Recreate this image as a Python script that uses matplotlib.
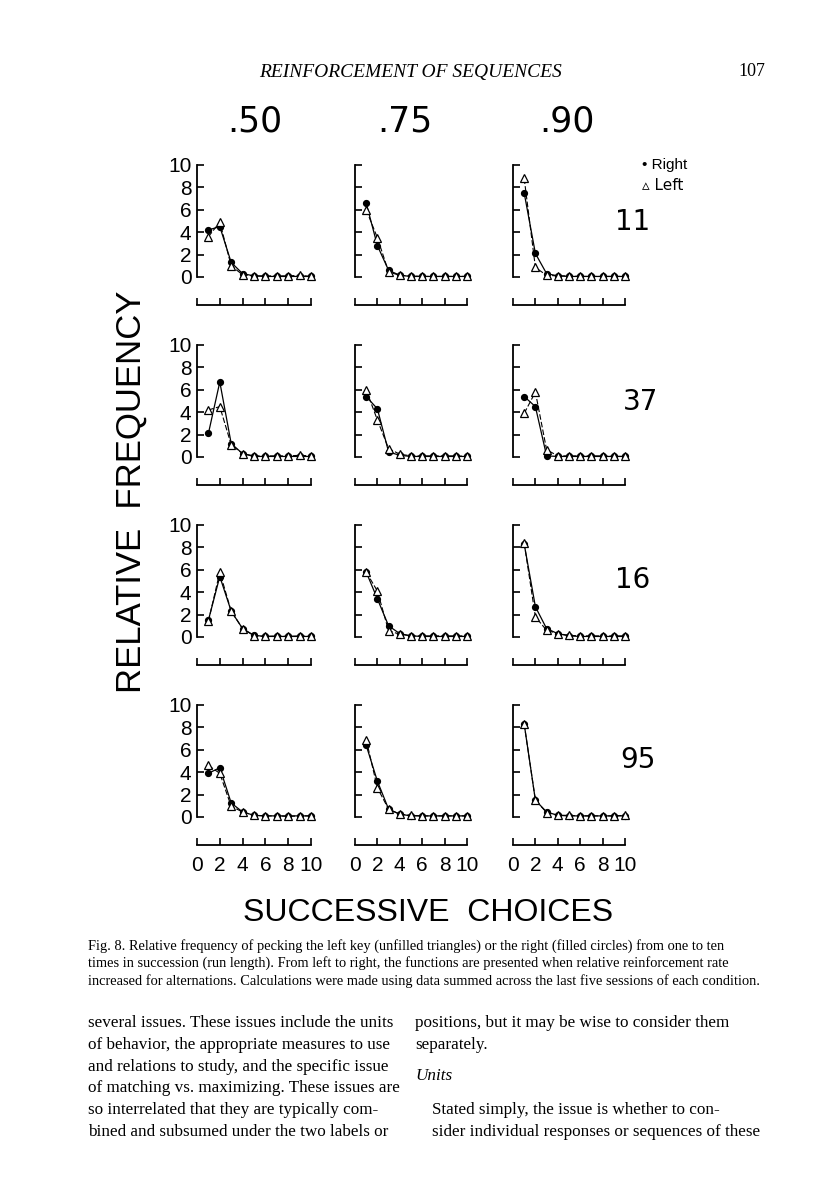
import matplotlib.pyplot as plt

# relative frequency (x10) by run length 1..10, filled circles = right key, triangles = left key
run_length = [1, 2, 3, 4, 5, 6, 7, 8, 9, 10]
rates = ['.50', '.75', '.90']
birds = ['11', '37', '16', '95']

right_11_50 = [4.2, 4.5, 1.3, 0.3, 0.1, 0.05, 0.05, 0.05, 0.05, 0.05]
left_11_50 = [3.6, 4.9, 1.0, 0.2, 0.1, 0.1, 0.1, 0.1, 0.15, 0.05]
right_11_75 = [6.6, 2.8, 0.6, 0.15, 0.05, 0.05, 0.05, 0.05, 0.05, 0.05]
left_11_75 = [6.0, 3.5, 0.45, 0.15, 0.1, 0.05, 0.05, 0.05, 0.05, 0.05]
right_11_90 = [7.5, 2.1, 0.3, 0.1, 0.05, 0.05, 0.05, 0.05, 0.05, 0.05]
left_11_90 = [8.8, 0.85, 0.15, 0.1, 0.1, 0.05, 0.05, 0.05, 0.05, 0.05]

right_37_50 = [2.1, 6.7, 1.2, 0.3, 0.05, 0.05, 0.05, 0.05, 0.05, 0.05]
left_37_50 = [4.2, 4.5, 1.1, 0.3, 0.1, 0.1, 0.1, 0.1, 0.15, 0.1]
right_37_75 = [5.4, 4.3, 0.45, 0.15, 0.05, 0.05, 0.05, 0.05, 0.05, 0.05]
left_37_75 = [6.0, 3.3, 0.75, 0.25, 0.1, 0.1, 0.1, 0.1, 0.1, 0.05]
right_37_90 = [5.4, 4.5, 0.1, 0.05, 0.05, 0.05, 0.05, 0.05, 0.05, 0.05]
left_37_90 = [3.9, 5.8, 0.65, 0.1, 0.1, 0.1, 0.1, 0.1, 0.05, 0.05]

right_16_50 = [1.5, 5.4, 2.3, 0.75, 0.15, 0.05, 0.05, 0.05, 0.05, 0.05]
left_16_50 = [1.4, 5.8, 2.3, 0.75, 0.1, 0.05, 0.1, 0.05, 0.1, 0.05]
right_16_75 = [5.8, 3.4, 1.0, 0.3, 0.1, 0.05, 0.05, 0.05, 0.05, 0.05]
left_16_75 = [5.8, 4.1, 0.55, 0.25, 0.1, 0.1, 0.1, 0.1, 0.1, 0.1]
right_16_90 = [8.3, 2.7, 0.75, 0.3, 0.1, 0.05, 0.05, 0.05, 0.05, 0.05]
left_16_90 = [8.4, 1.8, 0.6, 0.3, 0.15, 0.1, 0.1, 0.1, 0.1, 0.1]

right_95_50 = [3.9, 4.4, 1.25, 0.45, 0.15, 0.1, 0.1, 0.1, 0.1, 0.1]
left_95_50 = [4.6, 3.9, 0.95, 0.45, 0.15, 0.1, 0.1, 0.05, 0.1, 0.1]
right_95_75 = [6.4, 3.2, 0.7, 0.25, 0.1, 0.1, 0.1, 0.1, 0.1, 0.1]
left_95_75 = [6.9, 2.6, 0.7, 0.25, 0.15, 0.1, 0.1, 0.1, 0.1, 0.1]
right_95_90 = [8.3, 1.5, 0.45, 0.15, 0.1, 0.1, 0.1, 0.1, 0.1, 0.1]
left_95_90 = [8.3, 1.5, 0.4, 0.15, 0.15, 0.1, 0.1, 0.1, 0.1, 0.15]

right_rows = [[right_11_50, right_11_75, right_11_90],
              [right_37_50, right_37_75, right_37_90],
              [right_16_50, right_16_75, right_16_90],
              [right_95_50, right_95_75, right_95_90]]
left_rows = [[left_11_50, left_11_75, left_11_90],
             [left_37_50, left_37_75, left_37_90],
             [left_16_50, left_16_75, left_16_90],
             [left_95_50, left_95_75, left_95_90]]

yticks = [0, 2, 4, 6, 8, 10]
xticks = [0, 2, 4, 6, 8, 10]

caption = ["Fig. 8. Relative frequency of pecking the left key (unfilled triangles) or the right (filled circles) from one to ten",
           "times in succession (run length). From left to right, the functions are presented when relative reinforcement rate",
           "increased for alternations. Calculations were made using data summed across the last five sessions of each condition."]
body_left = ["several issues. These issues include the units",
             "of behavior, the appropriate measures to use",
             "and relations to study, and the specific issue",
             "of matching vs. maximizing. These issues are",
             "so interrelated that they are typically com-",
             "bined and subsumed under the two labels or"]
body_right = ["positions, but it may be wise to consider them",
              "separately."]
body_right2 = ["Stated simply, the issue is whether to con-",
               "sider individual responses or sequences of these"]

W, H = 816, 1200
fig = plt.figure(figsize=(W / 100, H / 100), dpi=100)
sans = ['Liberation Sans', 'DejaVu Sans']
wide = ['DejaVu Sans']
serif = ['Liberation Serif', 'DejaVu Serif']

col_left = [197, 355, 513]
col_w = [114, 112, 112]
row_bottom = [277, 457, 637, 817]
ph = 112

for r in range(4):
    for c in range(3):
        ax = fig.add_axes([col_left[c] / W, 1 - row_bottom[r] / H, col_w[c] / W, ph / H])
        ax.plot(run_length, right_rows[r][c], '-', color='black', lw=0.9,
                marker='o', ms=4.2, mfc='black', mec='black', clip_on=False)
        ax.plot(run_length, left_rows[r][c], '--', color='black', lw=0.8, dashes=(5, 2),
                marker='^', ms=5.5, mfc='white', mec='black', mew=0.9, clip_on=False)
        ax.set_xlim(0, 10)
        ax.set_ylim(0, 10)
        for s in ['top', 'right']:
            ax.spines[s].set_visible(False)
        ax.spines['left'].set_linewidth(1.3)
        ax.spines['bottom'].set_linewidth(1.3)
        ax.spines['bottom'].set_position(('outward', 20))
        ax.set_xticks(xticks)
        ax.set_yticks(yticks)
        ax.tick_params(axis='both', direction='in', length=5, width=1.2, pad=4)
        if c == 0:
            ax.set_yticklabels([str(t) for t in yticks], fontsize=15, family=sans)
        else:
            ax.set_yticklabels([])
        if r == 3:
            ax.set_xticklabels([str(t) for t in xticks], fontsize=15, family=sans)
            ax.tick_params(axis='x', pad=8)
        else:
            ax.set_xticklabels([])
        ax.patch.set_alpha(0)

def fig_text(x, y, s, **kw):
    fig.text(x / W, 1 - y / H, s, **kw)

fig_text(410, 72, 'REINFORCEMENT OF SEQUENCES', ha='center', va='center',
         fontsize=14, style='italic', family=serif)
fig_text(752, 72, '107', ha='center', va='center', fontsize=13, family=serif)

for x, lab in zip([255, 405, 567], rates):
    fig_text(x, 121, lab, ha='center', va='center', fontsize=25, family=wide)

for x, y, lab in zip([633, 641, 633, 638], [222, 402, 580, 760], birds):
    fig_text(x, y, lab, ha='center', va='center', fontsize=20, family=wide)

fig_text(642, 165, '\u2022 Right', ha='left', va='center', fontsize=11, family=sans)
fig_text(642, 186, '\u25b5 Left', ha='left', va='center', fontsize=11, family=['DejaVu Sans'])

fig_text(131, 492, 'RELATIVE  FREQUENCY', ha='center', va='center', rotation=90,
         fontsize=25, family=sans)
fig_text(428, 913, 'SUCCESSIVE  CHOICES', ha='center', va='center', fontsize=23, family=sans)

for i, line in enumerate(caption):
    fig_text(88, 946 + i * 17.5, line, ha='left', va='center', fontsize=10.4, family=serif)

for i, line in enumerate(body_left):
    fig_text(88, 1023 + i * 21.8, line, ha='left', va='center', fontsize=12.3, family=serif)
for i, line in enumerate(body_right):
    fig_text(415, 1023 + i * 21.8, line, ha='left', va='center', fontsize=12.3, family=serif)
fig_text(415, 1076, 'Units', ha='left', va='center', fontsize=12.3, style='italic', family=serif)
for i, line in enumerate(body_right2):
    fig_text(432, 1110 + i * 21.8, line, ha='left', va='center', fontsize=12.3, family=serif)

fig.savefig('out.png', dpi=100)
